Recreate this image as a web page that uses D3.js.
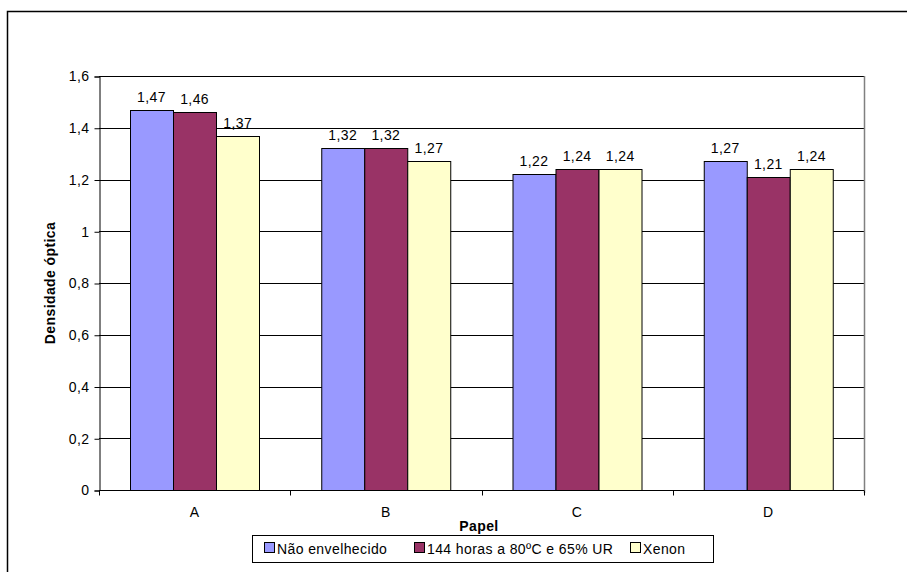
<!DOCTYPE html>
<html>
<head>
<meta charset="utf-8">
<script src="https://cdn.jsdelivr.net/npm/d3@7"></script>
<style>
  html, body { margin: 0; padding: 0; background: #fff; }
  svg { display: block; font-family: "Liberation Sans", Arial, sans-serif; }
  svg text { font-family: "Liberation Sans", Arial, sans-serif; letter-spacing: 0.4px; }
</style>
</head>
<body>
<svg id="chart" width="907" height="572"></svg>
<script>
// Optical density per paper type and ageing condition
const categories = ["A", "B", "C", "D"];
const seriesNames = ["Não envelhecido", "144 horas a 80ºC e 65% UR", "Xenon"];
const naoEnvelhecido = [1.47, 1.32, 1.22, 1.27];
const horas144 = [1.46, 1.32, 1.24, 1.21];
const xenon = [1.37, 1.27, 1.24, 1.24];
const yTicks = [0, 0.2, 0.4, 0.6, 0.8, 1, 1.2, 1.4, 1.6];
const colors = ["#9999FF", "#993366", "#FFFFCC"];

const seriesValues = [naoEnvelhecido, horas144, xenon];
const fmt = v => String(v).replace(".", ",");
const FS = 14;

const svg = d3.select("#chart");

// Outer chart frame (runs off the right and bottom edges)
svg.append("rect")
  .attr("x", 7.5).attr("y", 11.5)
  .attr("width", 920).attr("height", 600)
  .attr("fill", "none").attr("stroke", "#000").attr("stroke-width", 1.5);

const plot = { left: 99, right: 864, top: 76, bottom: 490 };

const x = d3.scaleBand().domain(categories).range([plot.left, plot.right]);
const xInner = d3.scaleBand().domain(d3.range(seriesNames.length))
  .range([0, x.bandwidth()]).paddingOuter(0.72).paddingInner(0);
const y = d3.scaleLinear().domain([0, 1.6]).range([plot.bottom, plot.top]);

// Gridlines
svg.append("g").selectAll("line").data(yTicks.filter(t => t > 0)).join("line")
  .attr("x1", plot.left).attr("x2", plot.right)
  .attr("y1", d => Math.round(y(d)) + 0.5).attr("y2", d => Math.round(y(d)) + 0.5)
  .attr("stroke", "#000").attr("stroke-width", 1);

// Right edge of plot area
svg.append("line")
  .attr("x1", plot.right + 0.5).attr("x2", plot.right + 0.5)
  .attr("y1", plot.top).attr("y2", plot.bottom + 3)
  .attr("stroke", "#808080").attr("stroke-width", 1.5);

// Bars
const groups = svg.append("g").selectAll("g").data(categories).join("g")
  .attr("transform", d => `translate(${x(d)},0)`);

groups.each(function(cat, ci) {
  const g = d3.select(this);
  seriesValues.forEach((vals, si) => {
    const v = vals[ci];
    g.append("rect")
      .attr("x", Math.round(xInner(si)) + 0.5)
      .attr("y", Math.round(y(v)) + 0.5)
      .attr("width", Math.round(xInner.bandwidth()))
      .attr("height", Math.round(y(0)) - Math.round(y(v)))
      .attr("fill", colors[si]).attr("stroke", "#000").attr("stroke-width", 1);
    g.append("text")
      .attr("x", xInner(si) + xInner.bandwidth() / 2)
      .attr("y", y(v) - 8)
      .attr("text-anchor", "middle")
      .attr("font-size", FS)
      .text(fmt(v));
  });
});

// Y axis
const yAxis = svg.append("g")
  .attr("transform", `translate(${plot.left + 0.5},0.5)`)
  .call(d3.axisLeft(y).tickValues(yTicks).tickSize(5).tickPadding(5).tickFormat(fmt));
yAxis.select(".domain").attr("stroke", "#000");
yAxis.selectAll("text").attr("font-size", FS).attr("fill", "#000");

// X axis with ticks at category boundaries
const xAxisG = svg.append("g").attr("transform", `translate(0,${plot.bottom + 0.5})`);
xAxisG.append("line").attr("x1", plot.left).attr("x2", plot.right)
  .attr("stroke", "#000");
const bounds = categories.map(c => x(c)).concat([plot.right]);
xAxisG.selectAll("line.tick").data(bounds).join("line").attr("class", "tick")
  .attr("x1", d => Math.round(d) + 0.5).attr("x2", d => Math.round(d) + 0.5)
  .attr("y1", 0).attr("y2", 5).attr("stroke", "#000");
xAxisG.selectAll("text").data(categories).join("text")
  .attr("x", d => x(d) + x.bandwidth() / 2).attr("y", 26)
  .attr("text-anchor", "middle").attr("font-size", FS).text(d => d);

// Axis titles
svg.append("text")
  .attr("x", 479).attr("y", 531)
  .attr("text-anchor", "middle").attr("font-size", FS).attr("font-weight", "bold")
  .text("Papel");
svg.append("text")
  .attr("transform", `translate(55,${(plot.top + plot.bottom) / 2}) rotate(-90)`)
  .attr("text-anchor", "middle").attr("font-size", FS).attr("font-weight", "bold")
  .text("Densidade óptica");

// Legend
const legend = svg.append("g");
legend.append("rect")
  .attr("x", 252.5).attr("y", 535.5).attr("width", 461).attr("height", 27)
  .attr("fill", "#fff").attr("stroke", "#000");
const legendX = [264, 414, 630];
seriesNames.forEach((name, i) => {
  legend.append("rect")
    .attr("x", legendX[i] + 0.5).attr("y", 542.5).attr("width", 10).attr("height", 10)
    .attr("fill", colors[i]).attr("stroke", "#000");
  legend.append("text")
    .attr("x", legendX[i] + 13).attr("y", 554)
    .attr("font-size", FS).text(name);
});
</script>
</body>
</html>
